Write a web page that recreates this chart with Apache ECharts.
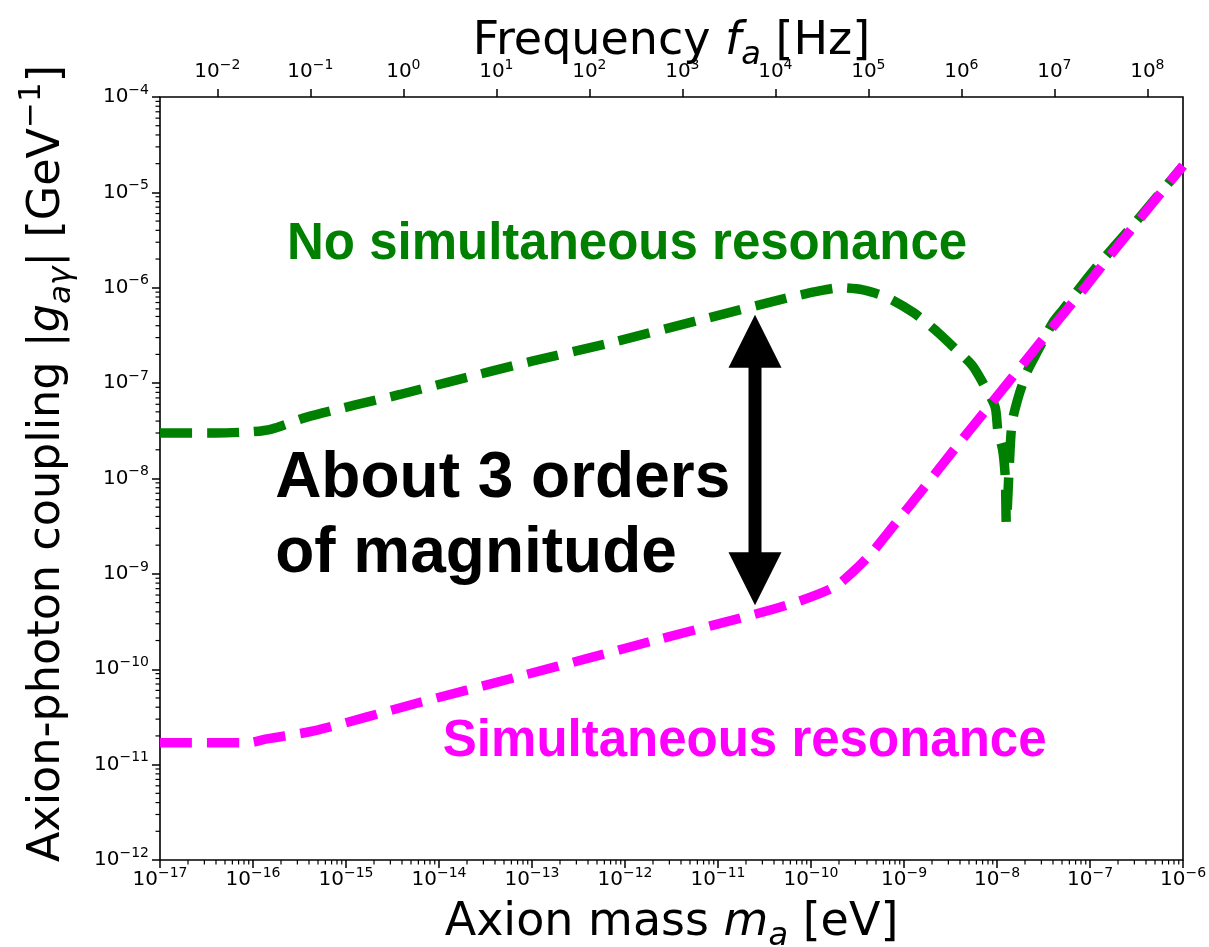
<!DOCTYPE html>
<html>
<head>
<meta charset="utf-8">
<script src="https://cdn.jsdelivr.net/npm/echarts@6/dist/echarts.min.js"></script>
<style>
html,body{margin:0;padding:0;background:#fff}
#chart{width:1209px;height:947px}
</style>
</head>
<body>
<div id="chart"></div>
<script>
// values: axion mass [eV] / coupling [GeV^-1]
var massGreen = [1e-17, 3.98e-17, 1e-16, 1.58e-16, 3.8e-16, 1.26e-15, 3.8e-15, 1.23e-14, 1e-13, 6.46e-13,
	6.46e-12, 5.5e-11, 1.12e-10, 2.04e-10, 3.63e-10, 6.6e-10, 1.26e-9, 2.24e-9, 3.39e-9, 5.37e-9,
	7.08e-9, 9.55e-9, 1.02e-8, 1.15e-8, 1.23e-8, 1.26e-8, 1.35e-8, 1.45e-8, 1.7e-8, 2.09e-8,
	2.69e-8, 3.98e-8, 5.13e-8, 1.07e-7, 3.16e-7, 1e-6];
var couplingGreen = [3.0e-8, 3.0e-8, 3.1e-8, 3.3e-8, 4.4e-8, 5.9e-8, 7.6e-8, 1.02e-7, 1.7e-7, 2.6e-7,
	4.6e-7, 7.8e-7, 9.1e-7, 1.0e-6, 9.5e-7, 7.9e-7, 5.5e-7, 3.5e-7, 2.4e-7, 1.55e-7,
	1.0e-7, 5.6e-8, 3.2e-8, 2.0e-8, 1.0e-8, 3.4e-9, 1.26e-8, 3.8e-8, 7.2e-8, 1.3e-7,
	2.1e-7, 4.3e-7, 5.9e-7, 1.48e-6, 5.0e-6, 1.9e-5];

var massMagenta = [1e-17, 8.9e-17, 1.41e-16, 4.9e-16, 5.75e-15, 6.9e-14, 5.0e-13, 1.86e-12, 1.86e-11, 5.9e-11,
	1.74e-10, 2.82e-10, 4.3e-10, 6.6e-10, 9.8e-10, 1.38e-9, 4.0e-9, 8.3e-9, 2.09e-8, 4.5e-8,
	9.3e-8, 1.66e-7, 1e-6];
var couplingMagenta = [1.7e-11, 1.7e-11, 1.86e-11, 2.3e-11, 4.4e-11, 8.3e-11, 1.38e-10, 1.95e-10, 3.5e-10, 4.8e-10,
	7.2e-10, 1.05e-9, 1.58e-9, 2.63e-9, 4.27e-9, 6.46e-9, 2.4e-8, 5.8e-8, 1.78e-7, 4.5e-7,
	1.07e-6, 2.2e-6, 1.9e-5];

// tick exponents
var massExp = [-17, -16, -15, -14, -13, -12, -11, -10, -9, -8, -7, -6];
var couplingExp = [-12, -11, -10, -9, -8, -7, -6, -5, -4];
var freqExp = [-2, -1, 0, 1, 2, 3, 4, 5, 6, 7, 8];
var EV_TO_HZ = 2.418e14;

var log10 = Math.log10;

function minors(exps){
	var out = [];
	for(var i=0;i<exps.length-1;i++){
		for(var k=2;k<10;k++) out.push(exps[i] + log10(k));
	}
	return out;
}
function pairs(xs, ys){
	return xs.map(function(x,i){ return [log10(x), log10(ys[i])]; });
}
function powLabel(v){
	var e = Math.round(v);
	return '{b|10}{s|' + String(e).replace('-', '\u2212') + '}';
}

var FONT = 'DejaVu Sans';
var tickRich = {
	b:{fontSize:20, fontFamily:FONT, color:'#000', lineHeight:20, verticalAlign:'bottom'},
	s:{fontSize:14, fontFamily:FONT, color:'#000', lineHeight:14, verticalAlign:'bottom', padding:[0,0,10,0]}
};
function nameRich(fs){
	var small = Math.round(fs*0.7);
	return {
		n:{fontSize:fs, fontFamily:FONT, color:'#000', lineHeight:fs, verticalAlign:'bottom', padding:[0,0,7,0]},
		i:{fontSize:fs, fontFamily:FONT, fontStyle:'italic', color:'#000', lineHeight:fs, verticalAlign:'bottom', padding:[0,0,7,0]},
		sub:{fontSize:small, fontFamily:FONT, fontStyle:'italic', color:'#000', lineHeight:small, verticalAlign:'bottom'},
		sup:{fontSize:small, fontFamily:FONT, color:'#000', lineHeight:small, verticalAlign:'bottom', padding:[0,0,Math.round(fs*0.67),0]}
	};
}
var tickLine = {color:'#000', width:1.5};
var noLine = {show:false, onZero:false};

var fMin = -17 + log10(EV_TO_HZ), fMax = -6 + log10(EV_TO_HZ);

// log minor ticks drawn through the axes' own coordinate mapping
function minorTicks(dataPts, vertical){
	return {
		type:'custom', coordinateSystem:'cartesian2d', xAxisIndex:0, yAxisIndex:0,
		clip:false, silent:true, z:5, data:dataPts,
		renderItem:function(params, api){
			var p = api.coord([api.value(0), api.value(1)]);
			var shape = vertical ? {x1:p[0], y1:p[1], x2:p[0], y2:p[1]+4.5} : {x1:p[0], y1:p[1], x2:p[0]-4.5, y2:p[1]};
			return {type:'line', shape:shape, style:{stroke:'#000', lineWidth:1.2}};
		}
	};
}

var chart = echarts.init(document.getElementById('chart'));
var option = {
	animation:false,
	backgroundColor:'#fff',
	grid:{left:160, right:26, top:97, bottom:87, show:true, borderColor:'#000', borderWidth:1.6, backgroundColor:'transparent', outerBoundsMode:'none'},
	xAxis:[
		{type:'value', position:'bottom', min:-17, max:-6,
			splitLine:{show:false}, axisLine:noLine,
			axisTick:{customValues:massExp, length:8, lineStyle:tickLine},
			axisLabel:{customValues:massExp, formatter:powLabel, rich:tickRich, margin:10},
			name:'{n|Axion mass }{i|m}{sub|a}{n| [eV]}', nameLocation:'middle', nameGap:47, nameMoveOverlap:false,
			nameTextStyle:{rich:nameRich(46)}
		},
		{type:'value', position:'top', min:fMin, max:fMax,
			splitLine:{show:false}, axisLine:noLine,
			axisTick:{customValues:freqExp, length:8, lineStyle:tickLine},
			axisLabel:{customValues:freqExp, formatter:powLabel, rich:tickRich, margin:15},
			name:'{n|Frequency }{i|f}{sub|a}{n| [Hz]}', nameLocation:'middle', nameGap:25, nameMoveOverlap:false,
			nameTextStyle:{rich:nameRich(46)}
		}
	],
	yAxis:[
		{type:'value', position:'left', min:-12, max:-4,
			splitLine:{show:false}, axisLine:noLine,
			axisTick:{customValues:couplingExp, length:8, lineStyle:tickLine},
			axisLabel:{customValues:couplingExp, formatter:powLabel, rich:tickRich, margin:11},
			name:'{n|Axion-photon coupling |}{i|g}{sub|a\u03b3}{n|| [GeV}{sup|\u22121}{n|]}',
			nameLocation:'middle', nameGap:83, nameMoveOverlap:false,
			nameTextStyle:{rich:nameRich(44.5), padding:[0,0,0,30]}
		}
	],
	series:[
		{name:'No simultaneous resonance', type:'line', xAxisIndex:0, yAxisIndex:0,
			data:pairs(massGreen, couplingGreen), showSymbol:false, smooth:0.25,
			lineStyle:{color:'#008000', width:9.5, type:[32,15], cap:'butt'}
		},
		{name:'Simultaneous resonance', type:'line', xAxisIndex:0, yAxisIndex:0,
			data:pairs(massMagenta, couplingMagenta), showSymbol:false, smooth:0.3,
			lineStyle:{color:'#ff00ff', width:9.5, type:[32,15], cap:'butt'}
		},
		minorTicks(minors(massExp).map(function(v){ return [v, couplingExp[0]]; }), true),
		minorTicks(minors(couplingExp).map(function(v){ return [massExp[0], v]; }), false)
	]
};
chart.setOption(option);

// annotations placed in data coordinates
function px(m, g){
	return chart.convertToPixel({xAxisIndex:0, yAxisIndex:0}, [log10(m), log10(g)]);
}
var ANNO_FONT = '"Liberation Sans", Arial, Helvetica, sans-serif';
var pNo = px(2.32e-16, 2.8e-6);
var pSim = px(1.1e-14, 1.74e-11);
var pOrd = px(1.73e-16, 4.0e-9);
var aTop = px(2.5e-11, 5.2e-7);
var aBot = px(2.5e-11, 4.7e-10);
var head = 53, halfHead = 26.5, shaft = 13;
var ax = aTop[0];

chart.setOption({
	graphic:[
		{type:'text', style:{text:'No simultaneous resonance', x:pNo[0], y:pNo[1], fill:'#008000',
			fontSize:51, fontWeight:'bold', fontFamily:ANNO_FONT, align:'left', verticalAlign:'middle'}},
		{type:'text', style:{text:'Simultaneous resonance', x:pSim[0], y:pSim[1], fill:'#ff00ff',
			fontSize:51, fontWeight:'bold', fontFamily:ANNO_FONT, align:'left', verticalAlign:'middle'}},
		{type:'text', style:{text:'About 3 orders\nof magnitude', x:pOrd[0], y:pOrd[1], fill:'#000',
			fontSize:64, lineHeight:75, fontWeight:'bold', fontFamily:ANNO_FONT, align:'left', verticalAlign:'middle'}},
		{type:'polygon', shape:{points:[[ax, aTop[1]], [ax-halfHead, aTop[1]+head], [ax+halfHead, aTop[1]+head]]}, style:{fill:'#000'}},
		{type:'rect', shape:{x:ax-shaft/2, y:aTop[1]+head-1, width:shaft, height:aBot[1]-aTop[1]-2*head+2}, style:{fill:'#000'}},
		{type:'polygon', shape:{points:[[ax, aBot[1]], [ax-halfHead, aBot[1]-head], [ax+halfHead, aBot[1]-head]]}, style:{fill:'#000'}}
	]
});
</script>
</body>
</html>
